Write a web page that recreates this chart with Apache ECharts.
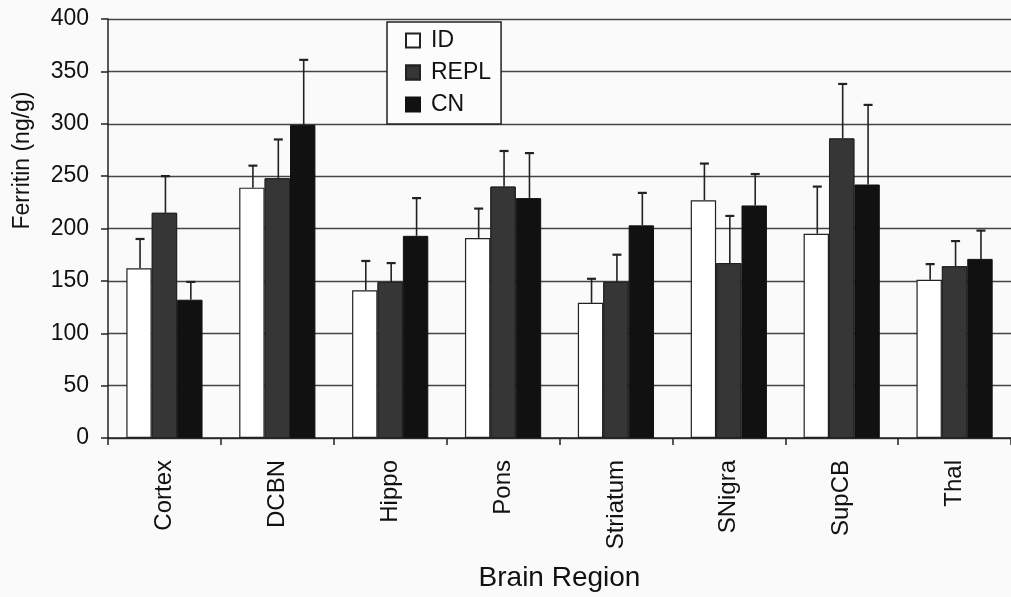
<!DOCTYPE html>
<html>
<head>
<meta charset="utf-8">
<script src="https://cdn.jsdelivr.net/npm/echarts@6/dist/echarts.min.js"></script>
<style>
html,body{margin:0;padding:0;background:#fafafa;}
#chart{width:1011px;height:597px;}
</style>
</head>
<body>
<div id="chart"></div>
<script>
var categories = ['Cortex', 'DCBN', 'Hippo', 'Pons', 'Striatum', 'SNigra', 'SupCB', 'Thal'];
var seriesNames = ['ID', 'REPL', 'CN'];
var idValues   = [162, 239, 141, 191, 129, 227, 195, 151];
var replValues = [215, 248, 149, 240, 149, 167, 286, 164];
var cnValues   = [132, 299, 193, 229, 203, 222, 242, 171];
// tops of the upper error whiskers
var idErrTop   = [190, 260, 169, 219, 152, 262, 240, 166];
var replErrTop = [250, 285, 167, 274, 175, 212, 338, 188];
var cnErrTop   = [149, 361, 229, 272, 234, 252, 318, 198];
var yTicks = [0, 50, 100, 150, 200, 250, 300, 350, 400];

var FONT = "'Liberation Sans', Arial, sans-serif";
var BAR_FRAC = 0.225;

function errData(vals, tops) {
  return vals.map(function (v, i) { return [i, v, tops[i]]; });
}

function errSeries(name, vals, tops, slot) {
  return {
    type: 'custom',
    name: name + ' err',
    silent: true,
    z: 5,
    data: errData(vals, tops),
    encode: { x: 0, y: [1, 2] },
    renderItem: function (params, api) {
      var catW = api.size([1, 0])[0];
      var barW = catW * BAR_FRAC;
      var base = api.coord([api.value(0), api.value(1)]);
      var top = api.coord([api.value(0), api.value(2)]);
      var x = base[0] + slot * barW + 1;
      var capHalf = 4.5;
      return {
        type: 'group',
        children: [
          { type: 'line', shape: { x1: x, y1: base[1], x2: x, y2: top[1] },
            style: { stroke: '#222', lineWidth: 1.6 } },
          { type: 'line', shape: { x1: x - capHalf, y1: top[1], x2: x + capHalf, y2: top[1] },
            style: { stroke: '#222', lineWidth: 2.2 } }
        ]
      };
    }
  };
}

var chart = echarts.init(document.getElementById('chart'), null, { renderer: 'canvas' });
chart.setOption({
  backgroundColor: '#fafafa',
  animation: false,
  textStyle: { fontFamily: FONT, color: '#111' },
  grid: { left: 108, top: 19, width: 913, height: 423, containLabel: false },
  legend: {
    data: seriesNames,
    orient: 'vertical',
    left: 387,
    top: 22,
    padding: [7, 10, 8, 18],
    itemGap: 9,
    itemWidth: 14,
    itemHeight: 14,
    icon: 'rect',
    backgroundColor: '#fcfcfc',
    borderColor: '#222',
    borderWidth: 1.5,
    borderRadius: 0,
    textStyle: { fontFamily: FONT, fontSize: 23, color: '#111', lineHeight: 22, padding: [0, 0, 0, 6] }
  },
  xAxis: {
    type: 'category',
    data: categories,
    boundaryGap: true,
    axisLine: { show: true, lineStyle: { color: '#222', width: 1.5 } },
    axisTick: { show: true, alignWithLabel: false, length: 7, lineStyle: { color: '#222', width: 1.5 } },
    axisLabel: { rotate: 90, margin: 22, fontSize: 24, color: '#111', fontFamily: FONT },
    splitLine: { show: false },
    name: 'Brain Region',
    nameLocation: 'middle',
    nameGap: 126,
    nameTextStyle: { fontSize: 28, color: '#111', fontFamily: FONT }
  },
  yAxis: {
    type: 'value',
    min: yTicks[0],
    max: yTicks[yTicks.length - 1],
    interval: 50,
    axisLine: { show: true, lineStyle: { color: '#222', width: 1.5 } },
    axisTick: { show: true, length: 7, lineStyle: { color: '#222', width: 1.5 } },
    axisLabel: { fontSize: 23, margin: 19, color: '#111', fontFamily: FONT },
    splitLine: { show: true, lineStyle: { color: '#444', width: 1.4 } },
    name: 'Ferritin (ng/g)',
    nameLocation: 'middle',
    nameRotate: 90,
    nameGap: 74,
    nameTextStyle: { fontSize: 23, color: '#111', fontFamily: FONT, padding: [0, 0, 0, 136] }
  },
  series: [
    {
      name: 'ID', type: 'bar', data: idValues,
      barWidth: (BAR_FRAC * 100) + '%', barGap: '0%',
      itemStyle: { color: '#ffffff', borderColor: '#222', borderWidth: 1.2 }
    },
    {
      name: 'REPL', type: 'bar', data: replValues,
      barWidth: (BAR_FRAC * 100) + '%', barGap: '0%',
      itemStyle: {
        color: '#363636', borderColor: '#222', borderWidth: 1,
        decal: { symbol: 'none', dashArrayX: [1, 0], dashArrayY: [2, 4], rotation: -Math.PI / 4, color: 'rgba(140,140,140,0.55)' }
      }
    },
    {
      name: 'CN', type: 'bar', data: cnValues,
      barWidth: (BAR_FRAC * 100) + '%', barGap: '0%',
      itemStyle: { color: '#111111', borderColor: '#111', borderWidth: 1 }
    },
    errSeries('ID', idValues, idErrTop, -1),
    errSeries('REPL', replValues, replErrTop, 0),
    errSeries('CN', cnValues, cnErrTop, 1)
  ]
});
</script>
</body>
</html>
